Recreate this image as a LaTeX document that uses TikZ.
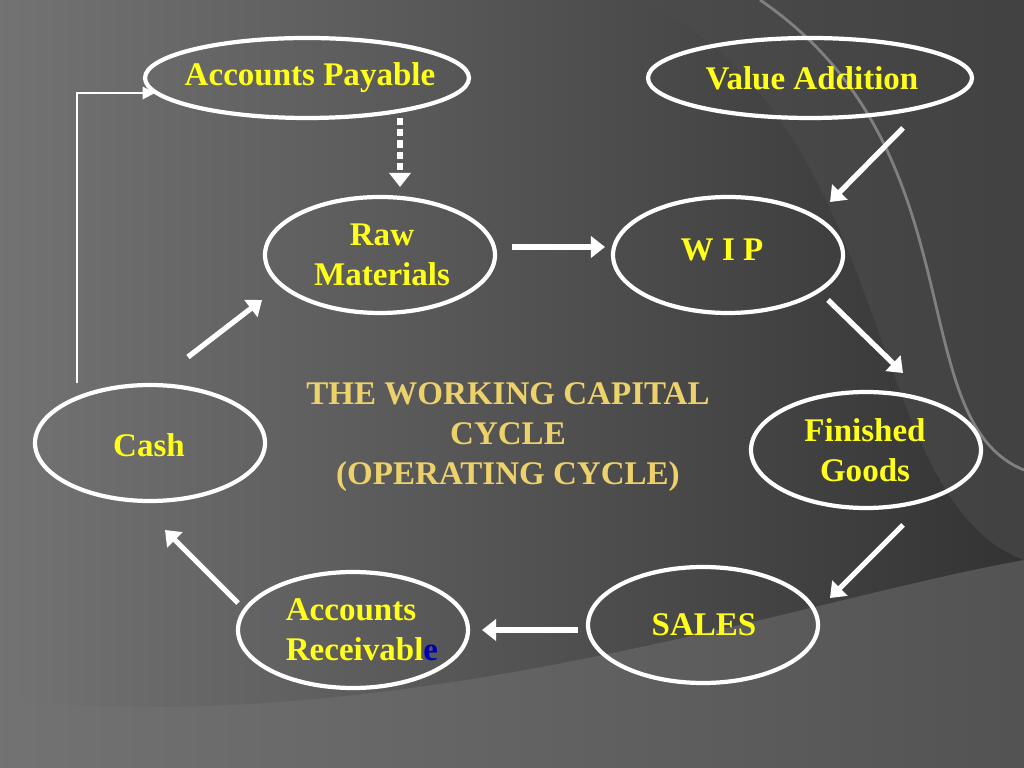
\documentclass[tikz,border=0pt]{standalone}
\usepackage{fontspec}
\setmainfont{Liberation Serif}
\usetikzlibrary{positioning}
\definecolor{labelyellow}{rgb}{1,1,0.1}
\definecolor{titlegold}{rgb}{0.93,0.82,0.42}
\tikzset{
  lbl/.style={text=labelyellow, font=\bfseries\fontsize{9.4}{11.4}\selectfont, align=center},
  flow/.style={white, line width=1.5pt, ->, >={Triangle[length=4pt,width=6pt]}},
  ring/.style={white, line width=1.2pt},
}
\usetikzlibrary{arrows.meta,shapes.geometric}
\begin{document}
\begin{tikzpicture}[x=0.1mm, y=-0.1mm]
	\useasboundingbox (0,0) rectangle (1024,768);
	% background
	\shade[left color=black!55, right color=black!80] (0,0) rectangle (1024,768);
	\fill[black!70, opacity=0.6] (640,0) .. controls (900,120) and (860,500) .. (1024,560) -- (1024,0) -- cycle;
	\fill[black!55, opacity=0.5] (0,700) .. controls (400,740) and (800,600) .. (1024,560) -- (1024,768) -- (0,768) -- cycle;
	\draw[black!50, line width=0.8pt] (760,0) .. controls (980,150) and (900,420) .. (1024,470);

	% ellipses
	\draw[ring] (307,78) ellipse [x radius=162, y radius=40];
	\draw[ring] (810,78) ellipse [x radius=162, y radius=40];
	\draw[ring] (380,255) ellipse [x radius=115, y radius=58];
	\draw[ring] (728,255) ellipse [x radius=115, y radius=58];
	\draw[ring] (150,443) ellipse [x radius=115, y radius=58];
	\draw[ring] (866,450) ellipse [x radius=115, y radius=58];
	\draw[ring] (353,630) ellipse [x radius=115, y radius=58];
	\draw[ring] (703,625) ellipse [x radius=115, y radius=58];

	% labels
	\node[lbl] (payable) at (310,78) {Accounts Payable};
	\node[lbl] (value) at (812,78) {Value Addition};
	\node[lbl] (raw) at (382,255) {Raw\\Materials};
	\node[lbl] (wip) at (722,250) {W I P};
	\node[lbl] (cash) at (149,445) {Cash};
	\node[lbl] (goods) at (865,450) {Finished\\ Goods};
	\node[lbl, align=left] (receivable) at (362,630) {Accounts\\Receivabl\textcolor{blue!70!black}{e}};
	\node[lbl] (sales) at (704,625) {SALES};
	\node[text=titlegold, font=\bfseries\fontsize{9.4}{11.4}\selectfont, align=center] (title) at (508,437)
		{THE WORKING CAPITAL\\CYCLE\\(OPERATING CYCLE)};

	% arrow ends
	\coordinate (va1) at (903,128); \coordinate (va2) at (830,202);
	\coordinate (rw1) at (512,247); \coordinate (rw2) at (605,247);
	\coordinate (wf1) at (828,300); \coordinate (wf2) at (903,373);
	\coordinate (fs1) at (903,525); \coordinate (fs2) at (830,598);
	\coordinate (sa1) at (578,630); \coordinate (sa2) at (482,630);
	\coordinate (ac1) at (238,603); \coordinate (ac2) at (165,530);
	\coordinate (cr1) at (188,357); \coordinate (cr2) at (262,300);
	\coordinate (pr1) at (400,118); \coordinate (pr2) at (400,187);
	\coordinate (cp1) at (77,383); \coordinate (cp2) at (155,93);

	\draw[flow] (va1) -- (va2);
	\draw[flow] (rw1) -- (rw2);
	\draw[flow] (wf1) -- (wf2);
	\draw[flow] (fs1) -- (fs2);
	\draw[flow] (sa1) -- (sa2);
	\draw[flow] (ac1) -- (ac2);
	\draw[flow] (cr1) -- (cr2);
	\draw[flow, dash pattern=on 2pt off 1.2pt] (pr1) -- (pr2);
	\draw[white, line width=0.6pt, ->, >={Triangle[length=3.5pt,width=3.5pt]}] (cp1) |- (cp2);
\end{tikzpicture}
\end{document}
